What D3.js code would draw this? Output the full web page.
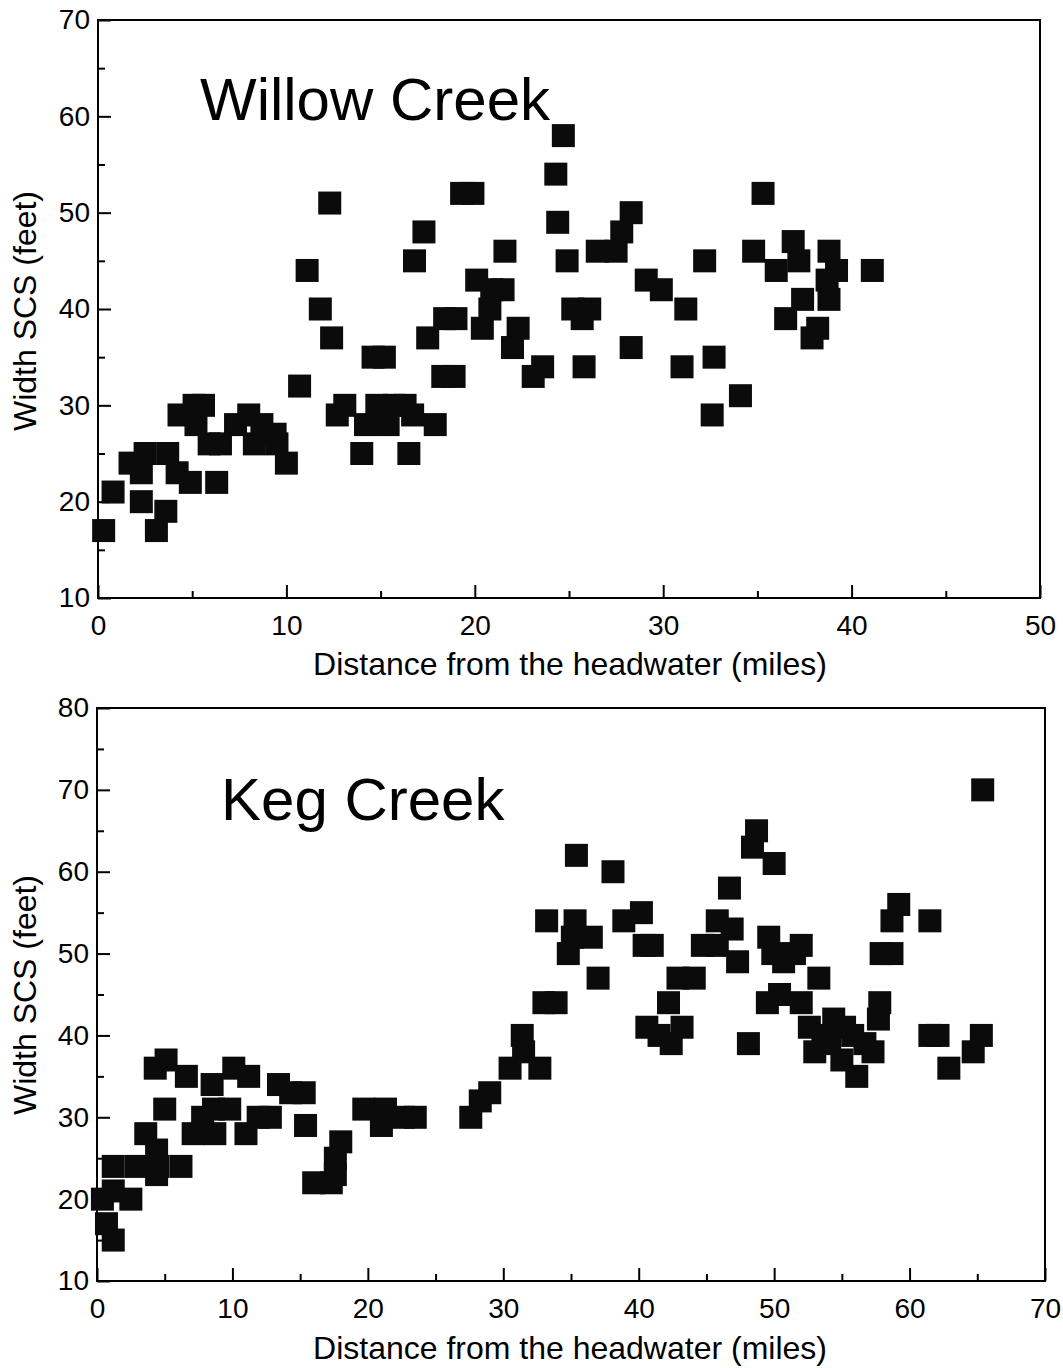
<!DOCTYPE html>
<html>
<head>
<meta charset="utf-8">
<script src="https://cdn.jsdelivr.net/npm/d3@7"></script>
<style>
  html, body { margin: 0; padding: 0; background: #fff; }
  svg { display: block; }
  text { font-family: "Liberation Sans", Arial, sans-serif; fill: #000; }
</style>
</head>
<body>
<svg id="chart" width="1063" height="1368"></svg>
<script>
// Willow Creek: distance from headwater (miles) and SCS width (feet)
const willowMiles = [
  0.3, 0.8, 1.7, 2.5, 3.7, 2.3, 4.2, 4.9, 6.3, 2.3, 3.6, 3.1,
  5.1, 5.6, 4.3, 5.2, 5.9, 6.5, 7.3, 8.0, 8.7, 8.3, 9.5, 9.4, 10.0, 10.7, 11.1,
  12.3, 19.3, 19.9, 17.3, 16.8, 11.8, 12.4, 14.6, 15.2, 13.1, 12.7, 14.8, 15.7, 16.3,
  14.2, 15.4, 16.7, 17.9, 14.0, 16.5, 18.3, 18.9, 17.5, 18.4, 19.0, 20.1, 20.4, 20.8,
  24.7, 24.3, 24.4, 21.6, 24.9, 28.3, 27.8, 26.5, 27.5, 20.9, 21.5, 22.3, 22.0, 23.6,
  23.1, 25.2, 26.1, 25.7, 25.8, 29.1, 29.9, 31.2, 28.3, 31.0,
  35.3, 34.8, 32.2, 36.0, 36.9, 37.2, 38.8, 39.2, 38.7, 41.1, 37.4, 38.8, 36.5, 38.2,
  37.9, 32.7, 34.1, 32.6
];
const willowWidth = [
  17, 21, 24, 25, 25, 23, 23, 22, 22, 20, 19, 17,
  30, 30, 29, 28, 26, 26, 28, 29, 28, 26, 26, 27, 24, 32, 44,
  51, 52, 52, 48, 45, 40, 37, 35, 35, 30, 29, 30, 30, 30,
  28, 28, 29, 28, 25, 25, 33, 33, 37, 39, 39, 43, 38, 40,
  58, 54, 49, 46, 45, 50, 48, 46, 46, 42, 42, 38, 36, 34,
  33, 40, 40, 39, 34, 43, 42, 40, 36, 34,
  52, 46, 45, 44, 47, 45, 46, 44, 43, 44, 41, 41, 39, 38,
  37, 35, 31, 29
];

// Keg Creek: distance from headwater (miles) and SCS width (feet)
const kegMiles = [
  0.4, 0.7, 1.2, 1.2, 2.5, 1.2, 2.9, 4.5, 6.2, 4.4, 4.4, 3.6, 5.0, 7.8, 8.6, 9.8,
  7.1, 8.7, 11.0, 11.9, 12.8, 5.1, 4.3, 6.6, 10.1, 11.2, 8.5, 13.4, 14.3, 15.3, 15.4,
  16.0, 17.3, 17.6, 17.6, 18.0, 19.7, 21.3, 21.0, 22.6, 23.5, 27.6, 28.3, 29.0,
  35.4, 38.1, 33.2, 35.3, 36.5, 35.1, 34.8, 38.9, 40.2, 40.4, 41.0, 37.0, 33.0, 33.9,
  31.4, 31.5, 30.5, 32.7,
  48.7, 48.4, 50.0, 46.7, 45.8, 46.9, 44.7, 45.8, 47.3, 49.6, 49.9, 50.7, 51.5, 52.0,
  53.3, 42.9, 44.1, 42.2, 40.6, 41.5, 42.4, 43.2, 48.1, 50.4, 49.5, 52.0,
  52.6, 53.6, 54.4, 55.2, 55.8, 54.1, 53.0, 55.0, 56.1, 56.7, 57.3, 57.7, 57.8,
  57.9, 58.7, 58.7, 59.2, 61.5, 61.5, 62.1, 62.9, 64.7, 65.3, 65.4
];
const kegWidth = [
  20, 17, 15, 21, 20, 24, 24, 24, 24, 23, 26, 28, 31, 30, 31, 31,
  28, 28, 28, 30, 30, 37, 36, 35, 36, 35, 34, 34, 33, 33, 29,
  22, 22, 25, 23, 27, 31, 31, 29, 30, 30, 30, 32, 33,
  62, 60, 54, 54, 52, 52, 50, 54, 55, 51, 51, 47, 44, 44,
  40, 38, 36, 36,
  65, 63, 61, 58, 54, 53, 51, 51, 49, 52, 50, 49, 50, 51,
  47, 47, 47, 44, 41, 40, 39, 41, 39, 45, 44, 44,
  41, 40, 42, 41, 40, 39, 38, 37, 35, 39, 38, 42, 44,
  50, 50, 54, 56, 54, 40, 40, 36, 38, 40, 70
];

// Axis tick values
const willowXTicks = [0, 10, 20, 30, 40, 50];
const willowYTicks = [10, 20, 30, 40, 50, 60, 70];
const kegXTicks = [0, 10, 20, 30, 40, 50, 60, 70];
const kegYTicks = [10, 20, 30, 40, 50, 60, 70, 80];

const svg = d3.select("#chart");
const MARK = 23;

function panel(cfg) {
  const x = d3.scaleLinear().domain(cfg.xDomain).range([cfg.left, cfg.right]);
  const y = d3.scaleLinear().domain(cfg.yDomain).range([cfg.bottom, cfg.top]);
  const g = svg.append("g");

  // minor ticks every 5 units, inward
  const xMinor = d3.range(cfg.xDomain[0] + 5, cfg.xDomain[1], 10);
  const yMinor = d3.range(cfg.yDomain[0] + 5, cfg.yDomain[1], 10);

  g.append("g")
    .attr("transform", `translate(0,${cfg.bottom})`)
    .call(d3.axisBottom(x).tickValues(cfg.xTicks).tickSize(-13).tickPadding(cfg.xPad).tickFormat(d3.format("d")));
  g.append("g")
    .attr("transform", `translate(0,${cfg.bottom})`)
    .call(d3.axisBottom(x).tickValues(xMinor).tickSize(-7).tickFormat(""));
  g.append("g")
    .attr("transform", `translate(${cfg.left},0)`)
    .call(d3.axisLeft(y).tickValues(cfg.yTicks).tickSize(-13).tickPadding(8).tickFormat(d3.format("d")));
  g.append("g")
    .attr("transform", `translate(${cfg.left},0)`)
    .call(d3.axisLeft(y).tickValues(yMinor).tickSize(-7).tickFormat(""));

  g.selectAll(".domain").remove();
  g.selectAll(".tick line").attr("stroke", "#000").attr("stroke-width", 2);
  g.selectAll(".tick text")
    .style("font-family", '"Liberation Sans", Arial, sans-serif')
    .style("font-size", "28px")
    .attr("fill", "#000");

  // plot frame
  g.append("rect")
    .attr("x", cfg.left).attr("y", cfg.top)
    .attr("width", cfg.right - cfg.left).attr("height", cfg.bottom - cfg.top)
    .attr("fill", "none").attr("stroke", "#000").attr("stroke-width", 2);

  // square markers
  g.append("g").selectAll("rect")
    .data(d3.zip(cfg.xs, cfg.ys))
    .join("rect")
    .attr("x", d => x(d[0]) - MARK / 2)
    .attr("y", d => y(d[1]) - MARK / 2)
    .attr("width", MARK).attr("height", MARK)
    .attr("fill", "#0b0b0b");

  // creek name
  g.append("text")
    .attr("x", cfg.nameX).attr("y", cfg.nameY)
    .style("font-size", "60px")
    .text(cfg.name);

  // axis titles
  g.append("text")
    .attr("x", 570).attr("y", cfg.xTitleY)
    .attr("text-anchor", "middle")
    .style("font-size", "32px")
    .text("Distance from the headwater (miles)");
  g.append("text")
    .attr("transform", `translate(36,${cfg.yTitleY}) rotate(-90)`)
    .attr("text-anchor", "middle")
    .style("font-size", "32px")
    .text("Width SCS (feet)");
}

panel({
  name: "Willow Creek", nameX: 200, nameY: 120,
  xs: willowMiles, ys: willowWidth,
  xDomain: [0, 50], yDomain: [10, 70],
  xTicks: willowXTicks, yTicks: willowYTicks,
  left: 98, right: 1040, top: 20, bottom: 598,
  xPad: 17, xTitleY: 675, yTitleY: 311
});

panel({
  name: "Keg Creek", nameX: 221, nameY: 820,
  xs: kegMiles, ys: kegWidth,
  xDomain: [0, 70], yDomain: [10, 80],
  xTicks: kegXTicks, yTicks: kegYTicks,
  left: 97, right: 1045, top: 708, bottom: 1281,
  xPad: 17, xTitleY: 1359, yTitleY: 995
});
</script>
</body>
</html>
